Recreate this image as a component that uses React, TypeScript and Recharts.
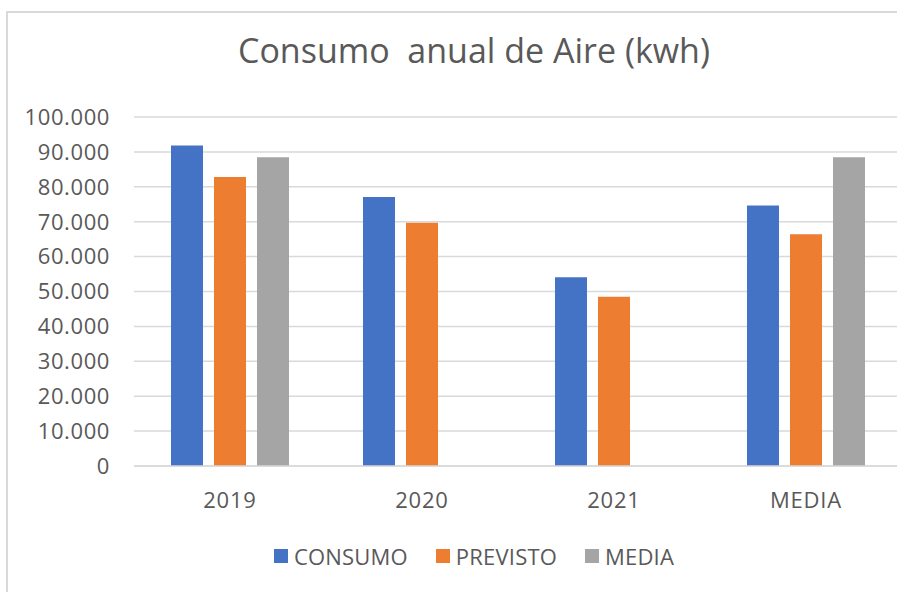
import React from 'react';
import { BarChart, Bar, XAxis, YAxis, CartesianGrid } from 'recharts';

const categories = ['2019', '2020', '2021', 'MEDIA'];
const consumo = [91800, 77050, 54100, 74650];
const previsto = [82800, 69700, 48500, 66400];
const media = [88500, null, null, 88500];
const yTicks = [0, 10000, 20000, 30000, 40000, 50000, 60000, 70000, 80000, 90000, 100000];

const series = [
  { key: 'consumo', name: 'CONSUMO', color: '#4472c4' },
  { key: 'previsto', name: 'PREVISTO', color: '#ed7d31' },
  { key: 'media', name: 'MEDIA', color: '#a5a5a5' },
];

const data = categories.map((c, i) => ({
  cat: c,
  consumo: consumo[i],
  previsto: previsto[i],
  media: media[i],
}));

const FONT = '"Open Sans", "Noto Sans", sans-serif';
const TEXT = '#595959';
const GRID = '#d9d9d9';

const fmt = (v: number) => (v === 0 ? '0' : String(v).replace(/\B(?=(\d{3})+(?!\d))/g, '.'));

export default function App() {
  return (
    <div style={{ position: 'fixed', left: 0, top: 0, width: 897, height: 592, overflow: 'hidden', background: '#fff' }}>
      <div
        style={{
          position: 'absolute',
          left: 6,
          top: 11,
          width: 932,
          height: 580,
          borderTop: `2px solid ${GRID}`,
          borderLeft: `2px solid ${GRID}`,
          background: '#fff',
          fontFamily: FONT,
        }}
      >
        <div
          style={{
            position: 'absolute',
            left: 0,
            right: 0,
            top: 20,
            textAlign: 'center',
            whiteSpace: 'pre',
            fontSize: 34,
            lineHeight: '34px',
            color: TEXT,
          }}
        >
          Consumo  anual de Aire (kwh)
        </div>

        <BarChart
          width={932}
          height={580}
          data={data}
          margin={{ top: 104, right: 38, bottom: 97, left: 0 }}
          barSize={32}
          barGap={11}
        >
          <CartesianGrid vertical={false} stroke={GRID} strokeWidth={1.5} />
          <XAxis
            dataKey="cat"
            height={30}
            tickLine={false}
            tickSize={0}
            tickMargin={26}
            axisLine={{ stroke: GRID, strokeWidth: 1.5 }}
            tick={{ fill: TEXT, fontSize: 22, fontFamily: FONT, letterSpacing: 0.8 }}
          />
          <YAxis
            width={126}
            domain={[0, 100000]}
            ticks={yTicks}
            interval={0}
            axisLine={false}
            tickLine={false}
            tickSize={0}
            tickMargin={24}
            tickFormatter={fmt}
            tick={{ fill: TEXT, fontSize: 22, fontFamily: FONT, letterSpacing: 0.6 }}
          />
          {series.map((s) => (
            <Bar key={s.key} dataKey={s.key} name={s.name} fill={s.color} isAnimationActive={false} />
          ))}
        </BarChart>

        <div
          style={{
            position: 'absolute',
            left: 0,
            right: 0,
            top: 528,
            height: 30,
            display: 'flex',
            justifyContent: 'center',
            alignItems: 'center',
            fontSize: 22,
            letterSpacing: 0.2,
            lineHeight: '30px',
            color: TEXT,
          }}
        >
          {series.map((s, i) => (
            <div key={s.key} style={{ display: 'flex', alignItems: 'center', marginLeft: i === 0 ? 0 : 28 }}>
              <span style={{ width: 14, height: 14, background: s.color, marginRight: 6, display: 'inline-block' }} />
              <span>{s.name}</span>
            </div>
          ))}
        </div>
      </div>
    </div>
  );
}
